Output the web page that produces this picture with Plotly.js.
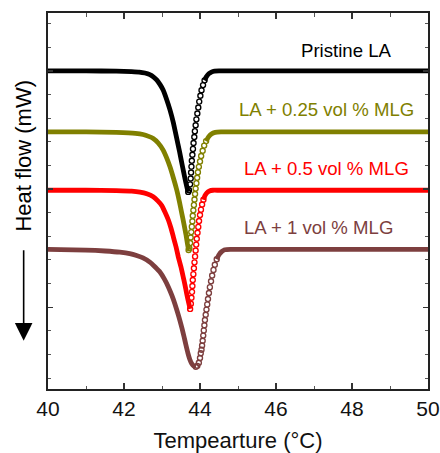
<!DOCTYPE html>
<html>
<head>
<meta charset="utf-8">
<script src="https://cdn.plot.ly/plotly-3.0.1.min.js"></script>
<style>html,body{margin:0;padding:0;background:#fff;}#chart{width:440px;height:453px;}</style>
</head>
<body>
<div id="chart"></div>
<script>
// Series names and colours
const seriesNames = ["Pristine LA", "LA + 0.25 vol % MLG", "LA + 0.5 vol % MLG", "LA + 1 vol % MLG"];
const seriesColors = ["#000000", "#808000", "#ff0000", "#7d3f3f"];

// Pristine LA
const pristineT = [40, 41, 41.8, 42.2, 42.4, 42.55, 42.68, 42.78, 42.86, 42.95, 43.03, 43.12, 43.21, 43.3, 43.38, 43.46, 43.54, 43.61, 43.66, 43.69,
  43.71, 43.74, 43.755, 43.765, 43.775, 43.785, 43.80, 43.815, 43.83, 43.85, 43.865, 43.885, 43.905, 43.93, 43.955, 43.98, 44.01, 44.04, 44.08, 44.12, 44.17, 44.23, 44.30, 44.38,
  44.5, 45.5, 47, 48.5, 50];
const pristineH = [10.0, 10.0, 9.99, 9.97, 9.95, 9.91, 9.84, 9.74, 9.62, 9.42, 9.19, 8.8, 8.35, 7.8, 7.2, 6.6, 5.95, 5.4, 5.05, 4.88,
  4.95, 5.20, 5.45, 5.70, 5.95, 6.20, 6.45, 6.70, 6.95, 7.20, 7.45, 7.70, 7.95, 8.20, 8.45, 8.70, 8.95, 9.18, 9.40, 9.60, 9.76, 9.88, 9.95, 9.99,
  10.0, 10.0, 10.0, 10.0, 10.0];

// LA + 0.25 vol % MLG
const mlg025T = [40, 41, 41.8, 42.3, 42.5, 42.65, 42.77, 42.9, 43.03, 43.12, 43.21, 43.3, 43.39, 43.46, 43.52, 43.58, 43.63, 43.67, 43.70,
  43.72, 43.74, 43.755, 43.77, 43.785, 43.80, 43.81, 43.825, 43.84, 43.855, 43.87, 43.885, 43.905, 43.925, 43.945, 43.97, 44.00, 44.03, 44.07, 44.11, 44.16, 44.22, 44.30, 44.40,
  44.55, 45.5, 47, 48.5, 50];
const mlg025H = [7.42, 7.42, 7.40, 7.36, 7.31, 7.23, 7.14, 6.95, 6.65, 6.33, 5.94, 5.47, 4.95, 4.45, 3.98, 3.5, 3.08, 2.68, 2.42,
  2.50, 2.72, 2.95, 3.18, 3.41, 3.64, 3.87, 4.10, 4.33, 4.56, 4.79, 5.02, 5.25, 5.48, 5.71, 5.94, 6.17, 6.40, 6.62, 6.84, 7.03, 7.20, 7.33, 7.40,
  7.42, 7.42, 7.42, 7.42, 7.42];

// LA + 0.5 vol % MLG
const mlg05T = [40, 41, 41.8, 42.2, 42.42, 42.6, 42.77, 42.89, 42.99, 43.08, 43.17, 43.24, 43.30, 43.37, 43.43, 43.5, 43.56, 43.61, 43.65, 43.70, 43.74,
  43.76, 43.775, 43.79, 43.80, 43.81, 43.825, 43.84, 43.855, 43.87, 43.885, 43.90, 43.915, 43.935, 43.955, 43.975, 44.00, 44.025, 44.055, 44.09, 44.13, 44.18, 44.25, 44.34,
  44.5, 45.5, 47, 48.5, 50];
const mlg05H = [4.95, 4.95, 4.93, 4.91, 4.87, 4.8, 4.67, 4.5, 4.31, 4.02, 3.68, 3.33, 2.97, 2.55, 2.12, 1.7, 1.27, 0.9, 0.57, 0.2, -0.07,
  0.15, 0.40, 0.65, 0.90, 1.15, 1.40, 1.65, 1.90, 2.15, 2.40, 2.65, 2.90, 3.15, 3.40, 3.65, 3.90, 4.13, 4.35, 4.55, 4.72, 4.84, 4.92, 4.95,
  4.95, 4.95, 4.95, 4.95, 4.95];

// LA + 1 vol % MLG
const mlg1T = [40, 41, 41.5, 41.89, 42.15, 42.33, 42.5, 42.68, 42.82, 42.95, 43.06, 43.17, 43.26, 43.34, 43.41, 43.47, 43.53, 43.58, 43.63, 43.68, 43.73, 43.78, 43.83, 43.89,
  43.93, 43.97, 44.00, 44.02, 44.04, 44.055, 44.07, 44.085, 44.10, 44.115, 44.13, 44.15, 44.17, 44.19, 44.21, 44.235, 44.26, 44.29, 44.32, 44.355, 44.39, 44.44, 44.50, 44.57, 44.65,
  44.8, 45.5, 47, 48.5, 50];
const mlg1H = [2.45, 2.42, 2.38, 2.33, 2.27, 2.19, 2.09, 1.91, 1.70, 1.48, 1.20, 0.85, 0.50, 0.14, -0.22, -0.56, -0.92, -1.25, -1.60, -1.93, -2.20, -2.38, -2.48, -2.52,
  -2.48, -2.35, -2.15, -1.95, -1.80, -1.62, -1.42, -1.20, -0.98, -0.76, -0.54, -0.32, -0.10, 0.12, 0.35, 0.60, 0.85, 1.10, 1.34, 1.58, 1.80, 2.03, 2.22, 2.35, 2.43,
  2.45, 2.45, 2.45, 2.45, 2.45];

// X axis ticks
const xTickVals = [40, 42, 44, 46, 48, 50];
const xTickText = ["40", "42", "44", "46", "48", "50"];

const allT = [pristineT, mlg025T, mlg05T, mlg1T];
const allH = [pristineH, mlg025H, mlg05H, mlg1H];

const traces = [];
allT.forEach((T, s) => {
  const H = allH[s];
  let iMin = 0;
  H.forEach((v, i) => { if (v < H[iMin]) iMin = i; });
  const base = H[H.length - 1];
  let iBend = H.length - 1;
  for (let i = iMin; i < H.length; i++) { if (H[i] >= base - 0.3) { iBend = i; break; } }
  const col = seriesColors[s];
  traces.push({x: T.slice(0, iMin + 1), y: H.slice(0, iMin + 1), mode: 'lines', type: 'scatter',
    line: {color: col, width: 4.8, shape: 'spline', smoothing: 0.4}, hoverinfo: 'skip', showlegend: false});
  traces.push({x: T.slice(iBend - 1), y: H.slice(iBend - 1), mode: 'lines', type: 'scatter',
    line: {color: col, width: 4.8, shape: 'spline', smoothing: 0.5}, hoverinfo: 'skip', showlegend: false});
  traces.push({x: T.slice(iMin, iBend), y: H.slice(iMin, iBend), mode: 'markers', type: 'scatter',
    marker: {symbol: 'circle-open', size: 5, color: col, line: {width: 1.4, color: col}},
    hoverinfo: 'skip', showlegend: false});
});

const fontFam = 'Liberation Sans, Arial, Helvetica, sans-serif';
const labelPos = [[346, 50.7], [326.3, 109.3], [326.5, 168.3], [318, 227.7]];
const L = 48.3, R = 427.7, Tp = 13.3, B = 389.3;
const px2paperX = p => (p - L) / (R - L);
const px2paperY = p => (B - p) / (B - Tp);

const annotations = seriesNames.map((n, i) => ({
  text: n, xref: 'paper', yref: 'paper', x: px2paperX(labelPos[i][0]), y: px2paperY(labelPos[i][1]),
  xanchor: 'center', yanchor: 'middle', showarrow: false,
  font: {family: fontFam, size: 18.6, color: seriesColors[i]}
}));
annotations.push({
  text: 'Heat flow (mW)', xref: 'paper', yref: 'paper', x: px2paperX(23.5), y: px2paperY(155.7),
  xanchor: 'center', yanchor: 'middle', textangle: -90, showarrow: false,
  font: {family: fontFam, size: 22, color: '#000'}
});
annotations.push({
  text: '', xref: 'paper', yref: 'paper', x: px2paperX(24), y: px2paperY(341),
  ax: 0, ay: -92, axref: 'pixel', ayref: 'pixel', showarrow: true,
  arrowhead: 2, arrowsize: 2.2, arrowwidth: 1.6, arrowcolor: '#000'
});

const layout = {
  width: 440, height: 453,
  margin: {l: L, r: 440 - R, t: Tp, b: 453 - B},
  paper_bgcolor: '#fff', plot_bgcolor: '#fff',
  showlegend: false,
  font: {family: fontFam, color: '#000'},
  xaxis: {
    range: [40, 50], tickvals: xTickVals, ticktext: xTickText,
    ticks: 'inside', ticklen: 6, tickwidth: 1.2, tickcolor: '#333',
    minor: {dtick: 1, ticks: 'inside', ticklen: 3.5, tickwidth: 1, tickcolor: '#555'},
    showline: true, linecolor: '#222', linewidth: 1.8, mirror: 'allticks',
    showgrid: false, zeroline: false,
    tickfont: {family: fontFam, size: 21, color: '#111'},
    title: {text: 'Tempearture (°C)', font: {family: fontFam, size: 22, color: '#111'}, standoff: 17}
  },
  yaxis: {
    range: [-3.46, 12.45], tick0: 0, dtick: 5,
    ticks: 'inside', ticklen: 5, tickwidth: 1.2, tickcolor: '#333',
    minor: {dtick: 1, ticks: 'inside', ticklen: 3, tickwidth: 1, tickcolor: '#555'},
    showticklabels: false,
    showline: true, linecolor: '#222', linewidth: 1.8, mirror: 'allticks',
    showgrid: false, zeroline: false
  },
  annotations: annotations
};

Plotly.newPlot('chart', traces, layout, {displayModeBar: false, staticPlot: true});
</script>
</body>
</html>
